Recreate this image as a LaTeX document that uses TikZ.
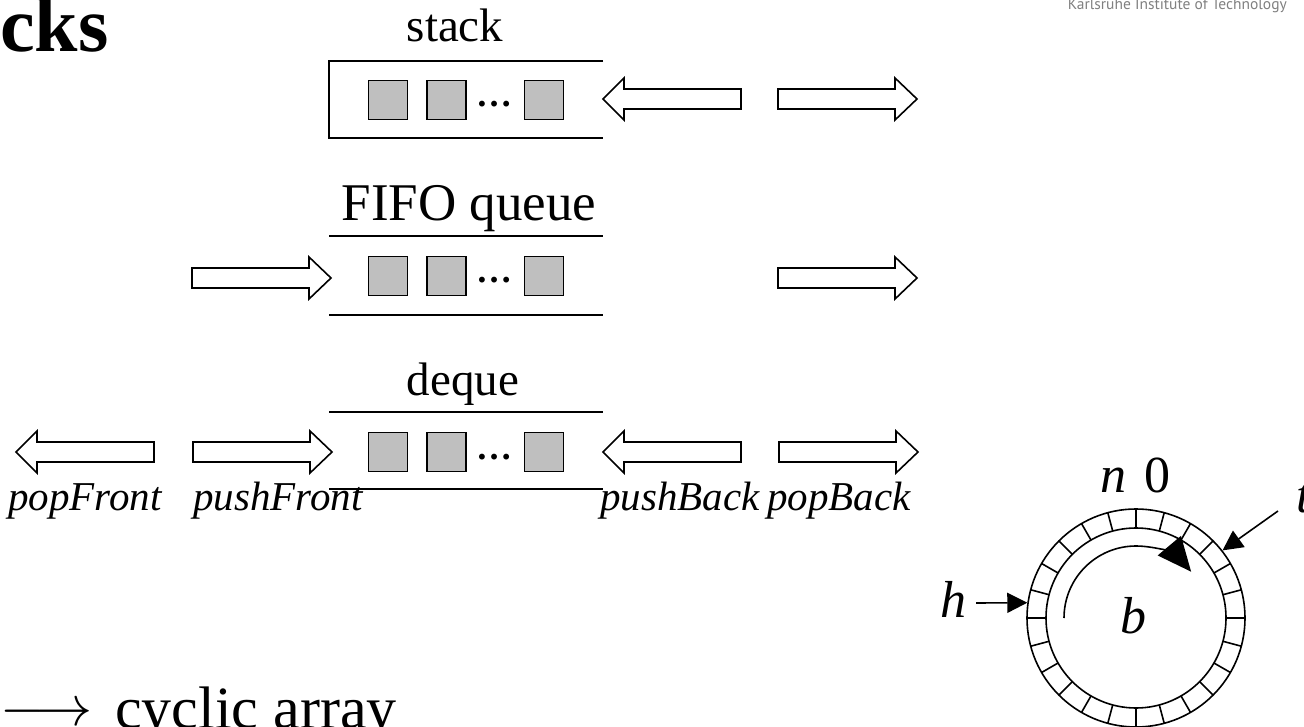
\documentclass[tikz,border=0pt]{standalone}
\usepackage{fontspec}
\setmainfont{Liberation Serif}
\newfontfamily\kitfont{PT Sans}
\usetikzlibrary{arrows.meta}
\begin{document}
\begin{tikzpicture}[x=1pt,y=-1pt,
  lw/.style={line width=1.6pt},
  cell/.style={draw, lw, fill=black!25, minimum size=39pt, inner sep=0pt},
  blk/.style={draw, lw, line join=miter, fill=white},
  rblk/.pic={\path[blk] (0,-10) -- (117,-10) -- (117,-21) -- (139,0) -- (117,21) -- (117,10) -- (0,10) -- cycle;},
  lblk/.pic={\path[blk] (0,0) -- (21,-21) -- (21,-10) -- (138,-10) -- (138,10) -- (21,10) -- (21,21) -- cycle;},
  title/.style={anchor=base, inner sep=0pt, font=\fontsize{47}{50}\selectfont},
  op/.style={anchor=base west, inner sep=0pt, font=\itshape\fontsize{41}{44}\selectfont},
  var/.style={inner sep=0pt, font=\itshape\fontsize{52}{56}\selectfont},
  dots/.style={anchor=base, inner sep=0pt, font=\bfseries\fontsize{36}{40}\selectfont},
  ptr/.style={lw, -{Triangle[length=20pt,width=20pt]}},
]
\useasboundingbox (0,0) rectangle (1304,727);

% slide decorations
\node[anchor=base west, inner sep=0pt, font=\bfseries\fontsize{78}{82}\selectfont] (head) at (0,52) {cks};
\node[anchor=base east, inner sep=0pt, text=black!50, font=\kitfont\fontsize{15.5}{17}\selectfont] (kit) at (1287,10) {Karlsruhe Institute of Technology};

% ---------- stack ----------
\node[title] (lstack) at (455,42) {stack};
\draw[lw] (603,61) -- (329,61) -- (329,138) -- (603,138);
\node[cell] (s1) at (388,100) {};
\node[cell] (s2) at (446.5,100) {};
\node[dots] (sd) at (494,107) {…};
\node[cell] (s3) at (544,100) {};
\pic at (603,99) {lblk};
\pic at (778,99) {rblk};

% ---------- FIFO queue ----------
\node[title, font=\fontsize{53}{56}\selectfont] (lqueue) at (469,221) {FIFO queue};
\draw[lw] (329,236) -- (603,236);
\draw[lw] (329,315) -- (603,315);
\node[cell] (q1) at (388,276) {};
\node[cell] (q2) at (446.5,276) {};
\node[dots] (qd) at (494,283) {…};
\node[cell] (q3) at (544,276) {};
\pic at (192,278) {rblk};
\pic at (778,278) {rblk};

% ---------- deque ----------
\node[title] (ldeque) at (463,395) {deque};
\draw[lw] (329,412) -- (603,412);
\draw[lw] (329,489) -- (603,489);
\node[cell] (d1) at (388,452) {};
\node[cell] (d2) at (446.5,452) {};
\node[dots] (dd) at (494,459) {…};
\node[cell] (d3) at (544,452) {};
\pic at (16,452) {lblk};
\pic at (193,452) {rblk};
\pic at (603,452) {lblk};
\pic at (779,452) {rblk};

\node[op] (popF) at (8,510) {popFront};
\node[op] (pushF) at (193,510) {pushFront};
\node[op] (pushB) at (600,510) {pushBack};
\node[op] (popB) at (767,510) {popBack};

% ---------- cyclic array ----------
\node[circle, draw, lw, minimum size=218pt, inner sep=0pt] (ring) at (1136,618) {};
\node[circle, draw, lw, minimum size=180pt, inner sep=0pt] (inner) at (1136,618) {};
\foreach \a in {0,15,...,345}
  \draw[lw] ([shift={(\a:90pt)}]ring.center) -- ([shift={(\a:109pt)}]ring.center);
\draw[lw, -{Triangle[length=34pt,width=30pt]}]
  ([shift={(180:72pt)}]ring.center) arc[start angle=180, end angle=40, radius=72pt];
\node[var, anchor=base] (b) at (1133,633) {b};
\node[var, anchor=base west] (h) at (940,617) {h};
\coordinate (hs) at (976,603);
\draw[ptr] (hs) -- (ring.172);
\node[var, anchor=base west] (t) at (1296,512) {t};
\coordinate (ts) at (1278,511);
\draw[ptr] (ts) -- (ring.38);
\node[var, anchor=base west] (n) at (1100,492) {n};
\node[var, anchor=base west, font=\fontsize{52}{56}\selectfont] (zero) at (1144,492) {0};

\node[anchor=base east, inner sep=0pt] (arr) at (93,725) {\resizebox{92pt}{!}{$\longrightarrow$}};
\node[anchor=base west, inner sep=0pt, font=\fontsize{60}{64}\selectfont] (cyc) at (115,728) {cyclic array};
\end{tikzpicture}
\end{document}
